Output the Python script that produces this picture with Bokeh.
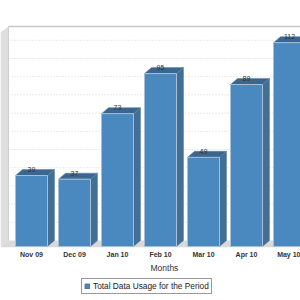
from bokeh.plotting import figure
from bokeh.layouts import column
from bokeh.models import Range1d, FixedTicker, Legend, LegendItem, Title
from bokeh.core.properties import value
from bokeh.embed import file_html
from bokeh.resources import INLINE

# ---- data ----
months = ["Nov 09", "Dec 09", "Jan 10", "Feb 10", "Mar 10", "Apr 10", "May 10"]
usage = [39, 37, 73, 95, 49, 89, 112]
grid_values = [10, 20, 30, 40, 50, 60, 70, 80, 90, 100, 110]
series_name = "Total Data Usage for the Period"
x_title = "Months"

# ---- geometry (layout constants, not data) ----
W = 300
H_MAIN, H_LEG = 276, 24
FRAME_H = 247
PX_X = 43.0      # pixels per category
PX_Y = 1.82      # pixels per unit
FIRST_PX = 31.0  # pixel centre of first category
x_start = -FIRST_PX / PX_X
x_end = x_start + W / PX_X
y_start = -1.0 / PX_Y
y_end = y_start + FRAME_H / PX_Y
dx = 7.0 / PX_X
dy = 6.0 / PX_Y
wall_dx = 8.0 / PX_X
bw = 32.0 / PX_X
top_front = 117.6

FRONT = "#4a89c0"
SIDE = "#426f96"
TOP = "#3b6690"
EDGE = "#a9bfd3"
FONT = "Liberation Sans"

p = figure(width=W, height=H_MAIN, output_backend="svg", toolbar_location=None,
           x_range=Range1d(x_start, x_end), y_range=Range1d(y_start, y_end),
           y_axis_location=None, min_border_left=0, min_border_right=0,
           min_border_top=0, min_border_bottom=H_MAIN - FRAME_H)
p.outline_line_color = None
p.xgrid.visible = False
p.ygrid.visible = False
p.background_fill_color = "white"
p.border_fill_color = "white"

# left wall
p.patch([x_start, x_start + wall_dx, x_start + wall_dx, x_start],
        [y_start, dy, top_front + dy, top_front],
        fill_color="#dedede", line_color=None)
# floor
p.patch([x_start, x_end, x_end, x_start + wall_dx],
        [y_start, y_start, dy, dy], fill_color="#d9d9d9", line_color=None)
p.segment(x0=[x_start + wall_dx], y0=[dy], x1=[x_start + wall_dx], y1=[top_front + dy],
          line_color="#cfcfcf", line_width=1)
# back-wall top border
p.segment(x0=[x_start + wall_dx], y0=[top_front + dy], x1=[x_end], y1=[top_front + dy],
          line_color="#c8c8c8", line_width=1.5)
# gridlines on back wall
p.segment(x0=[x_start + wall_dx] * len(grid_values), y0=[g + dy for g in grid_values],
          x1=[x_end] * len(grid_values), y1=[g + dy for g in grid_values],
          line_color="#d4d4d4", line_width=1, line_dash="1 2")

xs = list(range(len(months)))
side_xs, side_ys, top_xs, top_ys = [], [], [], []
for i, v in zip(xs, usage):
    xl, xr = i - bw / 2, i + bw / 2
    side_xs.append([xr, xr + dx, xr + dx, xr])
    side_ys.append([0, dy, v + dy, v])
    top_xs.append([xl, xr, xr + dx, xl + dx])
    top_ys.append([v, v, v + dy, v + dy])
p.patches(side_xs, side_ys, fill_color=SIDE, line_color="#5b7f9e", line_width=0.5)
p.patches(top_xs, top_ys, fill_color=TOP, line_color="#5b7f9e", line_width=0.5)
p.vbar(x=xs, top=usage, bottom=0, width=bw, fill_color=FRONT,
       line_color=EDGE, line_width=1)

p.text(x=xs, y=[v + dy for v in usage], text=[str(v) for v in usage],
       text_align="center", text_baseline="middle", text_font_size="7px",
       text_color="#333333", text_font=value(FONT))

ax = p.xaxis[0]
ax.ticker = FixedTicker(ticks=xs)
ax.major_label_overrides = {i: m for i, m in zip(xs, months)}
ax.axis_line_color = None
ax.major_tick_line_color = None
ax.minor_tick_line_color = None
ax.major_tick_out = 0
ax.major_tick_in = 0
ax.major_label_standoff = 3
ax.major_label_text_font_size = "7px"
ax.major_label_text_font_style = "bold"
ax.major_label_text_color = "#333333"
ax.major_label_text_font = FONT

p.add_layout(Title(text=x_title, align="left", offset=150, standoff=1,
                   text_font_size="8.5px", text_font_style="normal",
                   text_color="#333333", text_font=FONT), "below")

# ---- legend strip ----
q = figure(width=W, height=H_LEG, output_backend="svg", toolbar_location=None,
           x_range=Range1d(-1, 7), y_range=Range1d(1000, 1001),
           x_axis_location=None, y_axis_location=None,
           min_border_left=0, min_border_right=0, min_border_top=0, min_border_bottom=0)
q.outline_line_color = None
q.xgrid.visible = False
q.ygrid.visible = False
leg_r = q.vbar(x=xs, top=usage, bottom=0, width=bw, fill_color=FRONT,
               line_color="#3d6d97", line_width=1)
legend = Legend(items=[LegendItem(label=series_name, renderers=[leg_r])],
                location=(81, 6), orientation="horizontal",
                border_line_color="#333333", border_line_width=1,
                background_fill_color="white", background_fill_alpha=1.0,
                padding=2, spacing=0, margin=0, glyph_width=6, glyph_height=6,
                label_height=8, label_standoff=3,
                label_text_font_size="8.3px", label_text_font=FONT,
                label_text_color="#222222")
q.add_layout(legend, "center")

open("out.html", "w").write(file_html(column(p, q, spacing=0), INLINE))
